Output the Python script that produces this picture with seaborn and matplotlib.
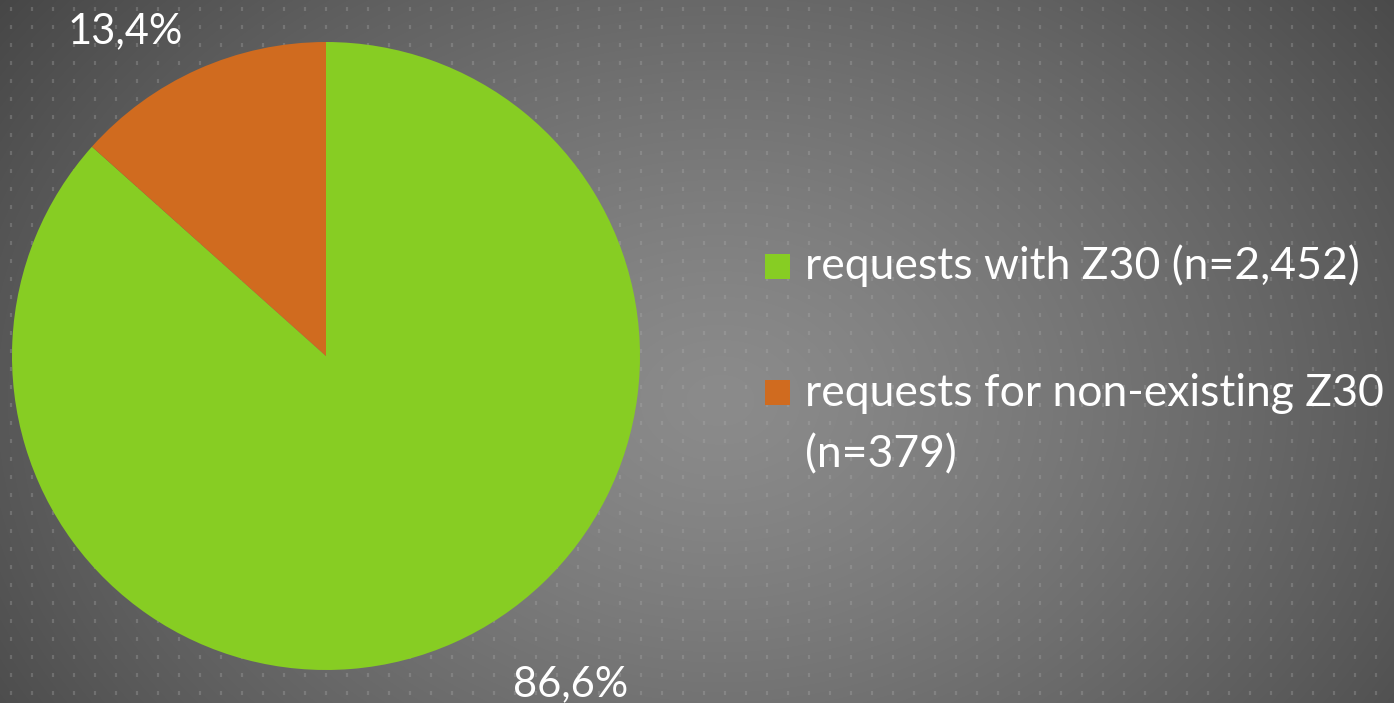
import numpy as np
import matplotlib
matplotlib.use("Agg")
import matplotlib.pyplot as plt
import seaborn as sns

# ---- data ----
categories = ["requests with Z30 (n=2,452)", "requests for non-existing Z30\n(n=379)"]
counts = [2452, 379]
colors = ["#87CD23", "#D06B1F"]

sns.set_theme(style="white")
plt.rcParams['font.family'] = ['Lato', 'DejaVu Sans']

W, H = 1394, 703
fig = plt.figure(figsize=(W / 100, H / 100), dpi=100)

# ---- background: radial gradient + dot grid ----
bg = fig.add_axes([0, 0, 1, 1])
yy, xx = np.mgrid[0:H, 0:W]
cx, cy = 720, 400
r = np.sqrt(((xx - cx) / 820.0) ** 2 + ((yy - cy) / 620.0) ** 2)
val = 0.545 - 0.24 * np.clip(r, 0, 1.2) ** 1.3
img = np.dstack([val, val, val])
bg.imshow(img, extent=[0, W, H, 0], aspect='auto', interpolation='bilinear')
dx = np.arange(11, W, 21)
dy = np.arange(9, H, 18)
DX, DY = np.meshgrid(dx, dy)
bg.scatter(DX.ravel(), DY.ravel(), marker='|', s=10, linewidths=1.6,
           color='#b0b0b0', alpha=0.3)
bg.set_xlim(0, W)
bg.set_ylim(H, 0)
bg.axis('off')

# ---- pie ----
cxp, cyp, R = 326, 347, 314
ax = fig.add_axes([(cxp - R) / W, (cyp - R) / H, 2 * R / W, 2 * R / H])
ax.set_facecolor('none')
total = sum(counts)
wedges, _ = ax.pie(counts, colors=colors, startangle=90, counterclock=False,
                   radius=1.0, wedgeprops=dict(linewidth=0))
ax.set_xlim(-1, 1)
ax.set_ylim(-1, 1)

pcts = [c / total * 100 for c in counts]
labels = [f"{p:.1f}%".replace('.', ',') for p in pcts]
ax.text(0.78, -1.045, labels[0], ha='center', va='center', color='white', fontsize=30)
ax.text(-0.64, 1.035, labels[1], ha='center', va='center', color='white', fontsize=30)

fs = 32
leg = ax.legend(wedges, categories, loc='upper left',
                bbox_to_anchor=(765 / W, 1 - 244 / H), bbox_transform=fig.transFigure,
                frameon=False, fontsize=fs, labelcolor='white',
                handlelength=0.5625, handleheight=0.5625, handletextpad=0.34,
                labelspacing=1.94, borderpad=0, borderaxespad=0)
leg.get_texts()[1].set_linespacing(1.6)
for i, hnd in enumerate(leg.legend_handles):
    w = hnd.get_width()
    hnd.set_height(w)
    hnd.set_y(0 if i == 0 else 25.2)

fig.savefig("out.png", dpi=100)
